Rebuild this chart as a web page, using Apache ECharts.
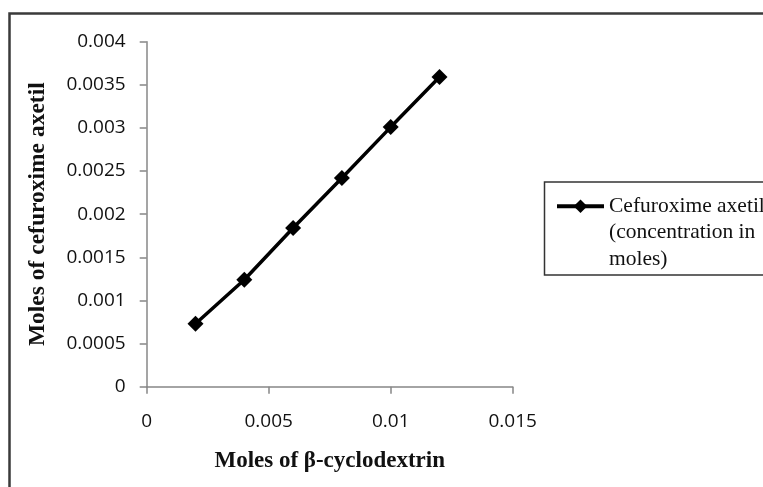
<!DOCTYPE html>
<html>
<head>
<meta charset="utf-8">
<script src="https://cdn.jsdelivr.net/npm/echarts@6/dist/echarts.min.js"></script>
<style>
html,body{margin:0;padding:0;background:#fff;}
#chart{width:763px;height:487px;}
</style>
</head>
<body>
<div id="chart"></div>
<script>
// Data
const cyclodextrinMoles = [0.002, 0.004, 0.006, 0.008, 0.010, 0.012];
const cefuroximeMoles   = [0.00073, 0.00124, 0.00184, 0.00242, 0.00301, 0.00359];
const seriesName = 'Cefuroxime axetil\n(concentration in\nmoles)';
const xAxisTitle = 'Moles of \u03b2-cyclodextrin';
const yAxisTitle = 'Moles of cefuroxime axetil';

const points = cyclodextrinMoles.map((x, i) => [x, cefuroximeMoles[i]]);
const fmt = v => String(+v.toFixed(5));

const chart = echarts.init(document.getElementById('chart'), null, {renderer: 'canvas'});
const axisGrey = '#878787';
const serif = '"Liberation Serif", "DejaVu Serif", serif';
chart.setOption({
  animation: false,
  backgroundColor: '#ffffff',
  grid: {left: 146.7, top: 41.7, width: 366, height: 345, containLabel: false},
  xAxis: {
    type: 'value', min: 0, max: 0.015, interval: 0.005,
    name: xAxisTitle, nameLocation: 'middle', nameGap: 63,
    nameTextStyle: {fontFamily: serif, fontWeight: 'bold', fontSize: 23, color: '#111'},
    axisLine: {show: true, lineStyle: {color: axisGrey, width: 1.5}},
    axisTick: {show: true, inside: false, length: 7, lineStyle: {color: axisGrey, width: 1.5}},
    axisLabel: {margin: 25, formatter: fmt, fontFamily: '"Open Sans", sans-serif', fontSize: 19, color: '#111'},
    splitLine: {show: false}
  },
  yAxis: {
    type: 'value', min: 0, max: 0.004, interval: 0.0005,
    name: yAxisTitle, nameLocation: 'middle', nameGap: 97, nameRotate: 90,
    nameTextStyle: {fontFamily: serif, fontWeight: 'bold', fontSize: 23.5, color: '#111'},
    axisLine: {show: true, lineStyle: {color: axisGrey, width: 1.5}},
    axisTick: {show: true, inside: false, length: 7, lineStyle: {color: axisGrey, width: 1.5}},
    axisLabel: {margin: 21, formatter: fmt, fontFamily: '"Open Sans", sans-serif', fontSize: 19, color: '#111'},
    splitLine: {show: false}
  },
  legend: {
    show: true,
    left: 555, top: 140,
    padding: 0,
    itemWidth: 47, itemHeight: 17, itemGap: 0,
    formatter: name => '\n\n' + name,
    lineStyle: {width: 4, color: '#000'},
    itemStyle: {color: '#000'},
    textStyle: {fontFamily: serif, fontSize: 21.5, color: '#111', lineHeight: 26.5},
    data: [seriesName]
  },
  graphic: [
    {type: 'polyline', silent: true, shape: {points: [[9.5, 490], [9.5, 13.5], [770, 13.5]]},
     style: {fill: null, stroke: '#3a3a3a', lineWidth: 2.5}},
    {type: 'rect', silent: true, shape: {x: 544.5, y: 182, width: 260, height: 93},
     style: {fill: null, stroke: '#333', lineWidth: 1.5}}
  ],
  series: [{
    name: seriesName,
    type: 'line',
    data: points,
    symbol: 'diamond',
    symbolSize: 16,
    showAllSymbol: true,
    lineStyle: {color: '#000', width: 3.5},
    itemStyle: {color: '#000'}
  }]
});
</script>
</body>
</html>
